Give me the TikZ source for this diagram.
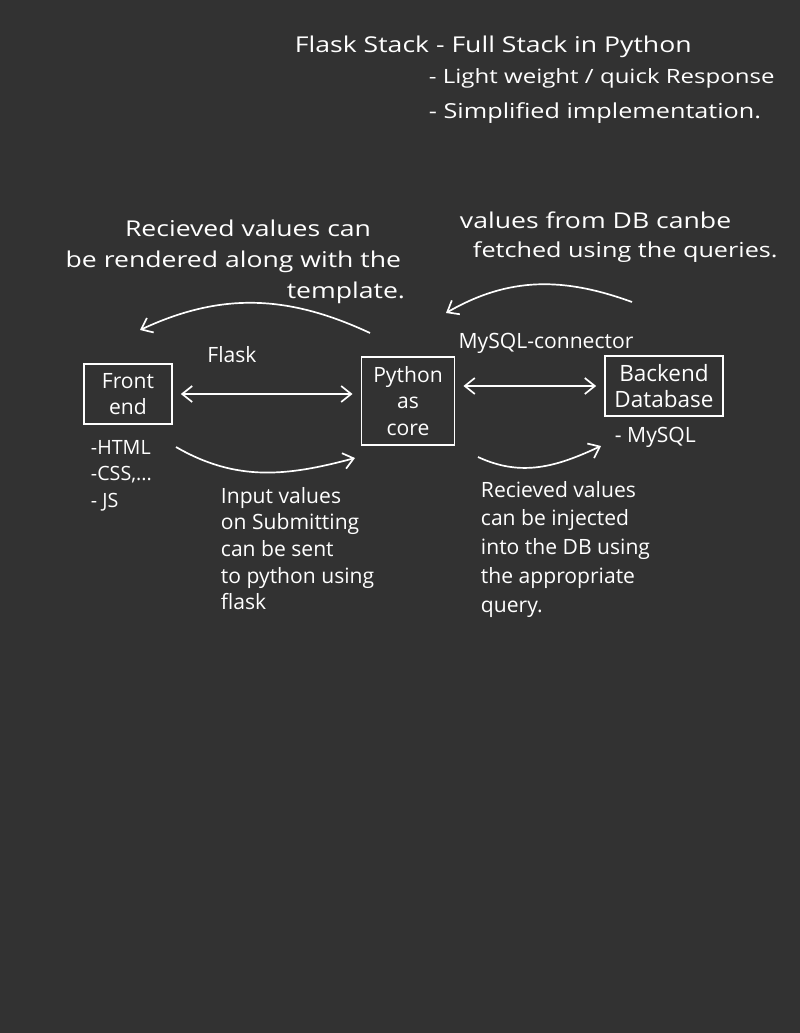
\documentclass[tikz,border=0pt]{standalone}
\usepackage{fontspec}
\setmainfont{Open Sans}
\newfontfamily\widehand[FakeStretch=1.22]{Open Sans}
\usetikzlibrary{arrows.meta}
\definecolor{board}{RGB}{50,50,50}

\begin{document}
\begin{tikzpicture}[x=0.025cm,y=-0.025cm,
  chalk/.style={text=white,font=\fontsize{15}{19}\selectfont},
  wide/.style={text=white,font=\widehand\fontsize{#1}{19}\selectfont},
  wide/.default=15.5,
  box/.style={draw=white,line width=1.2pt,align=center,chalk,inner sep=2pt},
  >={Straight Barb[length=2.5mm,width=4mm]}]
\fill[board] (0,0) rectangle (800,1033);
\useasboundingbox (0,0) rectangle (800,1033);

\node[wide,anchor=west] (title) at (290,47) {Flask Stack - Full Stack in Python};
\node[wide=14,anchor=west] (light) at (424,78) {- Light weight / quick Response};
\node[wide=14.7,anchor=west] (simple) at (424,113) {- Simplified implementation.};

\node[wide,anchor=east] (rendera) at (376,228) {Recieved values can};
\node[wide,anchor=east] (renderb) at (406,262) {be rendered along with the};
\node[wide,anchor=east] (renderc) at (410,293) {template.};
\node[wide,anchor=west] (fetcha) at (455,220) {values from DB canbe};
\node[wide=14.7,anchor=west] (fetchb) at (468,252) {fetched using the queries.};

\node[box,minimum width=2.2cm,minimum height=1.5cm] (front) at (128,394) {Front\\ end};
\node[box,minimum width=2.33cm,minimum height=2.2cm] (python) at (408,401) {Python\\ as\\ core};
\node[box,minimum width=2.95cm,minimum height=1.5cm,font=\fontsize{16}{19}\selectfont] (backend) at (664,386) {Backend\\ Database};

\node[chalk] (flask) at (232,355) {Flask};
\node[chalk] (connector) at (546,343) {MySQL-connector};

\draw [line width=1.2pt,white,<->] ([xshift=2mm]front.east) -- ([xshift=-2mm]python.west |- front.east);
\draw [line width=1.2pt,white,<->] ([xshift=2mm]python.east |- backend.west) -- ([xshift=-2mm]backend.west);

\coordinate (rendfrom) at (370,333);
\coordinate (rendto) at (140,330);
\draw [line width=1.2pt,white,->] (rendfrom) to[out=155,in=25] (rendto);
\coordinate (fetchfrom) at (632,302);
\coordinate (fetchto) at (446,313);
\draw [line width=1.2pt,white,->] (fetchfrom) to[out=160,in=30] (fetchto);
\coordinate (sendfrom) at (176,447);
\coordinate (sendto) at (355,458);
\draw [line width=1.2pt,white,->] (sendfrom) to[out=-30,in=195] (sendto);
\coordinate (injfrom) at (478,457);
\coordinate (injto) at (601,446);
\draw [line width=1.2pt,white,->] (injfrom) to[out=-25,in=205] (injto);

\node[chalk,anchor=north west,align=left,font=\fontsize{14}{19}\selectfont] (web) at (86,435) {-HTML\\ -CSS,...\\ - JS};
\node[chalk,anchor=west] (mysql) at (610,437) {- MySQL};

\node[chalk,anchor=north west,align=left] (input) at (216,482) {Input values\\ on Submitting\\ can be sent\\ to python using\\ flask};
\node[chalk,anchor=north west,align=left,font=\fontsize{15}{20.5}\selectfont] (inject) at (476,476) {Recieved values\\ can be injected\\ into the DB using\\ the appropriate\\ query.};
\end{tikzpicture}
\end{document}
